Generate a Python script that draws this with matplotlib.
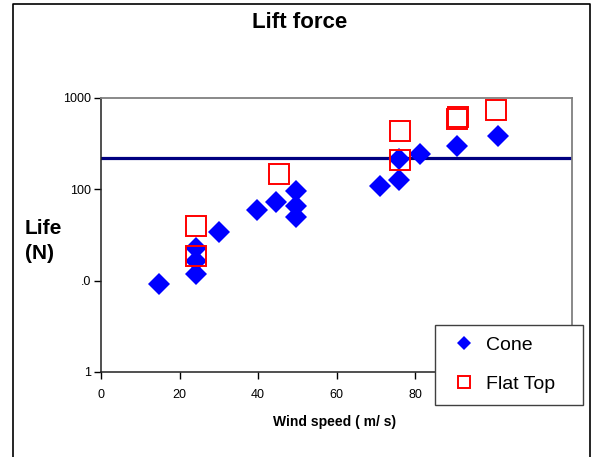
import matplotlib.pyplot as plt
from matplotlib.lines import Line2D
from matplotlib.ticker import FixedLocator, NullLocator

# Cone measurements
cone_speed = [14.8, 24.2, 24.2, 24.2, 30.1, 39.7, 44.7, 49.8, 49.8, 49.8,
              71.2, 75.9, 75.9, 81.4, 90.8, 101.2]
cone_lift = [9.3, 23, 16.6, 11.9, 34, 60, 73, 97, 66, 50,
             110, 126, 213, 245, 299, 385]

# Flat top measurements
flat_speed = [24.1, 24.1, 45.4, 76.3, 76.3, 90.6, 91.0, 100.6]
flat_lift = [40, 18.8, 149, 431, 211, 590, 615, 747]

limit_lift = 222

yticks = [1, 10, 100, 1000]
ytick_labels = ["1", ".0", "100", "1000"]
xticks = [0, 20, 40, 60, 80, 100, 120]

plt.rcParams['font.family'] = ['Liberation Sans', 'DejaVu Sans']

fig = plt.figure(figsize=(5.91, 4.57), dpi=100)
W, H = 591, 457
ax = fig.add_axes([101 / W, 1 - 372 / H, 471 / W, 274 / H])

ax.set_yscale('log')
ax.set_xlim(0, 120)
ax.set_ylim(1, 1000)

ax.axhline(limit_lift, color='#000080', linewidth=2.3, zorder=2)
ax.plot(cone_speed, cone_lift, linestyle='none', marker='D', markersize=10.7,
        color='#0000ff', markeredgewidth=0, label='Cone', zorder=3)
ax.plot(flat_speed, flat_lift, linestyle='none', marker='s', markersize=14,
        markerfacecolor='none', markeredgecolor='#ff0000', markeredgewidth=1.4,
        label='Flat Top', zorder=4)

ax.yaxis.set_major_locator(FixedLocator(yticks))
ax.yaxis.set_minor_locator(NullLocator())
ax.set_yticklabels(ytick_labels)
ax.set_xticks(xticks)
ax.tick_params(axis='both', direction='out', length=5, width=1,
               labelsize=9, colors='black')
ax.tick_params(axis='y', pad=2)
ax.tick_params(axis='x', pad=7)

for side in ['top', 'right']:
    ax.spines[side].set_color('#808080')
    ax.spines[side].set_linewidth(1.3)
for side in ['left', 'bottom']:
    ax.spines[side].set_color('#202020')
    ax.spines[side].set_linewidth(1.1)

leg = ax.legend(loc='upper left',
                bbox_to_anchor=(435 / W, 53 / H, 148 / W, 79 / H),
                bbox_transform=fig.transFigure, mode='expand',
                fontsize=14, markerscale=0.62,
                frameon=True, fancybox=False, borderaxespad=0, borderpad=0.6,
                labelspacing=1.1, handlelength=1.8, handletextpad=0.2)
leg.get_frame().set_edgecolor('#404040')
leg.get_frame().set_linewidth(1.0)
leg.get_frame().set_alpha(1)
leg.set_zorder(10)

fig.text(300 / W, 1 - 22 / H, "Lift force", ha='center', va='center',
         fontsize=16, fontweight='bold')
fig.text(25 / W, 1 - 241 / H, "Life\n(N)", ha='left', va='center',
         fontsize=15, fontweight='bold', linespacing=1.35)
fig.text(335 / W, 1 - 422 / H, "Wind speed ( m/ s)", ha='center', va='center',
         fontsize=10, fontweight='bold')

# outer chart frame (open at the bottom)
frame_x = [12.5 / W, 12.5 / W, 589.5 / W, 589.5 / W]
frame_y = [0, 1 - 3.5 / H, 1 - 3.5 / H, 0]
fig.add_artist(Line2D(frame_x, frame_y, color='black', linewidth=1.2))

fig.savefig('out.png', dpi=100)
